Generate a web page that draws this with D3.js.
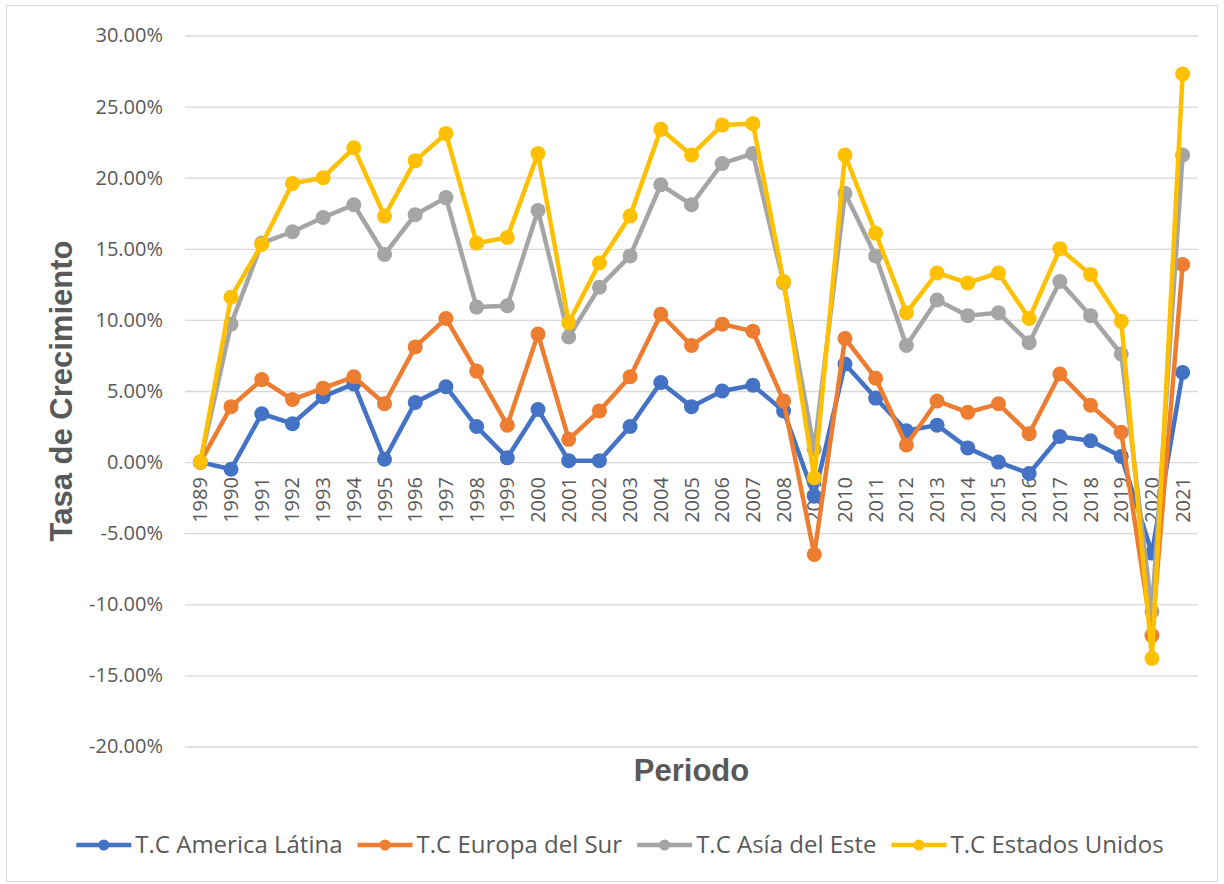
<!DOCTYPE html>
<html>
<head>
<meta charset="utf-8">
<script src="https://cdn.jsdelivr.net/npm/d3@7"></script>
<style>
  body { margin: 0; background: #fff; }
  text { font-family: "Open Sans", sans-serif; fill: #595959; }
</style>
</head>
<body>
<script>
// data
var years = [1989,1990,1991,1992,1993,1994,1995,1996,1997,1998,1999,2000,2001,2002,2003,2004,2005,
             2006,2007,2008,2009,2010,2011,2012,2013,2014,2015,2016,2017,2018,2019,2020,2021];

var latina = [0,-0.5,3.4,2.7,4.6,5.5,0.2,4.2,5.3,2.5,0.3,3.7,0.1,0.1,2.5,5.6,3.9,
              5.0,5.4,3.6,-2.4,6.9,4.5,2.2,2.6,1.0,0.0,-0.8,1.8,1.5,0.4,-6.4,6.3];
var europa = [0,3.9,5.8,4.4,5.2,6.0,4.1,8.1,10.1,6.4,2.6,9.0,1.6,3.6,6.0,10.4,8.2,
              9.7,9.2,4.3,-6.5,8.7,5.9,1.2,4.3,3.5,4.1,2.0,6.2,4.0,2.1,-12.2,13.9];
var asia   = [0,9.7,15.4,16.2,17.2,18.1,14.6,17.4,18.6,10.9,11.0,17.7,8.8,12.3,14.5,19.5,18.1,
              21.0,21.7,12.6,0.9,18.9,14.5,8.2,11.4,10.3,10.5,8.4,12.7,10.3,7.6,-10.5,21.6];
var usa    = [0,11.6,15.3,19.6,20.0,22.1,17.3,21.2,23.1,15.4,15.8,21.7,9.8,14.0,17.3,23.4,21.6,
              23.7,23.8,12.7,-1.1,21.6,16.1,10.5,13.3,12.6,13.3,10.1,15.0,13.2,9.9,-13.8,27.3];

var seriesNames = ["T.C America Látina","T.C Europa del Sur","T.C Asía del Este","T.C Estados Unidos"];
var seriesColors = ["#4472C4","#ED7D31","#A5A5A5","#FFC000"];
var yTicks = [-20,-15,-10,-5,0,5,10,15,20,25,30];

var W = 1224, H = 884;
var plot = {left: 185, right: 1198, top: 35.5, bottom: 746.5};

var svg = d3.select("body").append("svg")
    .attr("width", W).attr("height", H);

// chart border
svg.append("rect")
    .attr("x", 6.5).attr("y", 5.5)
    .attr("width", 1211).attr("height", 876)
    .attr("fill", "none").attr("stroke", "#d9d9d9");

var x = d3.scaleBand().domain(years).range([plot.left, plot.right]);
var y = d3.scaleLinear().domain([-20, 30]).range([plot.bottom, plot.top]);

// gridlines + y labels (plain hyphen like excel)
var yAxis = svg.append("g")
    .attr("transform", "translate(" + plot.left + ",0)")
    .call(d3.axisLeft(y).tickValues(yTicks)
        .tickSize(-(plot.right - plot.left))
        .tickPadding(22)
        .tickFormat(function(d){ return (d < 0 ? "-" : "") + Math.abs(d).toFixed(2) + "%"; }));
yAxis.select(".domain").remove();
yAxis.selectAll("line").attr("stroke", "#d9d9d9").attr("stroke-width", 1.3);
yAxis.selectAll("text").style("font-size", "20px").style("font-family", "Open Sans").attr("fill", "#595959");

// year labels sitting under the zero line
var xAxis = svg.append("g")
    .attr("transform", "translate(0," + y(0) + ")")
    .call(d3.axisBottom(x).tickSize(0));
xAxis.select(".domain").remove();
xAxis.selectAll("text")
    .style("font-size", "20px").style("font-family", "Open Sans").attr("fill", "#595959")
    .attr("text-anchor", "end")
    .attr("transform", "rotate(-90)")
    .attr("x", -15).attr("y", 0).attr("dy", "0.35em");

// series
var allSeries = [latina, europa, asia, usa];
var line = d3.line()
    .x(function(d, i){ return x(years[i]) + x.bandwidth() / 2; })
    .y(function(d){ return y(d); });

allSeries.forEach(function(s, k){
    var g = svg.append("g");
    g.append("path")
        .datum(s)
        .attr("d", line)
        .attr("fill", "none")
        .attr("stroke", seriesColors[k])
        .attr("stroke-width", 4.5)
        .attr("stroke-linejoin", "round");
    g.selectAll("circle").data(s).enter().append("circle")
        .attr("cx", function(d, i){ return x(years[i]) + x.bandwidth() / 2; })
        .attr("cy", function(d){ return y(d); })
        .attr("r", 7.5)
        .attr("fill", seriesColors[k]);
});

// axis titles
svg.append("text")
    .attr("transform", "translate(72," + ((plot.top + plot.bottom) / 2) + ") rotate(-90)")
    .attr("text-anchor", "middle")
    .style("font-family", "Liberation Sans, Arial, sans-serif")
    .style("font-weight", "bold").style("font-size", "31px")
    .text("Tasa de Crecimiento");

svg.append("text")
    .attr("x", (plot.left + plot.right) / 2).attr("y", 781)
    .attr("text-anchor", "middle")
    .style("font-family", "Liberation Sans, Arial, sans-serif")
    .style("font-weight", "bold").style("font-size", "31px")
    .text("Periodo");

// legend
var legend = svg.append("g");
var lx = 0;
seriesNames.forEach(function(name, k){
    var item = legend.append("g").attr("transform", "translate(" + lx + ",0)");
    item.append("line")
        .attr("x1", 0).attr("x2", 55).attr("y1", 0).attr("y2", 0)
        .attr("stroke", seriesColors[k]).attr("stroke-width", 4.5);
    item.append("circle").attr("cx", 27.5).attr("cy", 0).attr("r", 5.5)
        .attr("fill", seriesColors[k]);
    var t = item.append("text")
        .attr("x", 59).attr("y", 0).attr("dy", "0.35em")
        .style("font-size", "24px")
        .text(name);
    lx += 59 + t.node().getComputedTextLength() + 15;
});
var legendW = lx - 15;
legend.attr("transform", "translate(" + (620 - legendW / 2) + ",845)");
</script>
</body>
</html>
